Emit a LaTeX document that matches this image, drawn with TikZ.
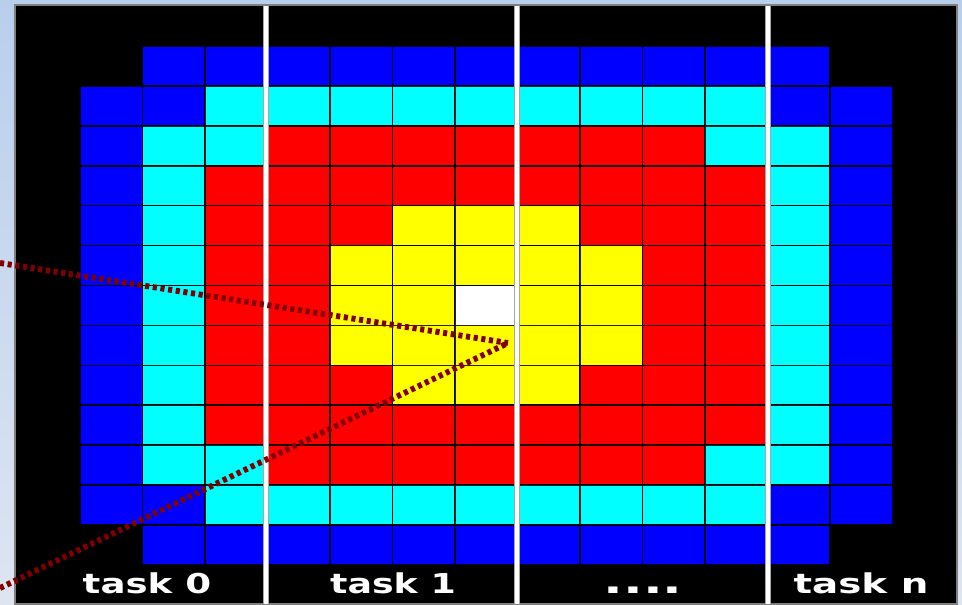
\documentclass[tikz,border=0pt]{standalone}
\usepackage{fontspec}
\newfontfamily\labelfont{DejaVu Sans}
\definecolor{cK}{RGB}{0,0,0}
\definecolor{cB}{RGB}{0,0,255}
\definecolor{cC}{RGB}{0,255,255}
\definecolor{cR}{RGB}{255,0,0}
\definecolor{cY}{RGB}{255,255,0}
\definecolor{cW}{RGB}{255,255,255}
\definecolor{bgtop}{RGB}{184,207,236}
\definecolor{bgbot}{RGB}{222,229,240}
\definecolor{rayred}{RGB}{128,0,0}
\tikzset{
  cellgrid/.style={draw=black, draw opacity=0.85, line width=1.2pt},
  ray/.style={draw=rayred, line width=4.4pt, dash pattern=on 3.1pt off 2.7pt},
  tasklabel/.style={text=white, inner sep=0pt, anchor=base,
    font=\labelfont\bfseries\fontsize{20.5}{24}\selectfont},
  dotlabel/.style={text=white, inner sep=0pt, anchor=base,
    font=\labelfont\bfseries\fontsize{26}{30}\selectfont},
  sepglow/.style={draw=gray!70, line width=4.8pt},
  sepline/.style={draw=white, line width=2.8pt}
}
\begin{document}
\begin{tikzpicture}[x=0.75pt,y=-0.75pt]
\useasboundingbox (0,0) rectangle (962,605);
\shade[top color=bgtop, bottom color=bgbot] (0,0) rectangle (962,605);
\draw[gray, line width=1.2pt, fill=black] (15,5) rectangle (957,604);
\foreach \r/\row in {
  0/{K,B,B,B,B,B,B,B,B,B,B,B,K},
  1/{B,B,C,C,C,C,C,C,C,C,C,B,B},
  2/{B,C,C,R,R,R,R,R,R,R,C,C,B},
  3/{B,C,R,R,R,R,R,R,R,R,R,C,B},
  4/{B,C,R,R,R,Y,Y,Y,R,R,R,C,B},
  5/{B,C,R,R,Y,Y,Y,Y,Y,R,R,C,B},
  6/{B,C,R,R,Y,Y,W,Y,Y,R,R,C,B},
  7/{B,C,R,R,Y,Y,Y,Y,Y,R,R,C,B},
  8/{B,C,R,R,R,Y,Y,Y,R,R,R,C,B},
  9/{B,C,R,R,R,R,R,R,R,R,R,C,B},
  10/{B,C,C,R,R,R,R,R,R,R,C,C,B},
  11/{B,B,C,C,C,C,C,C,C,C,C,B,B},
  12/{K,B,B,B,B,B,B,B,B,B,B,B,K}}
{
  \foreach \c [count=\i from 0] in \row {
    \filldraw[fill=c\c, cellgrid] ({80+62.5*\i},{46+39.92*\r}) rectangle ++(62.5,39.92);
  }
}
\foreach \x in {266,517,768} {
  \draw[sepglow] (\x,6) -- (\x,604);
  \draw[sepline] (\x,6) -- (\x,604);
}
\coordinate (focus) at (508,343);
\coordinate (rayA) at (0,263);
\coordinate (rayB) at (0,588);
\draw[ray] (rayA) -- (focus);
\draw[ray] (rayB) -- (focus);
\node[tasklabel] (t0) at (147,593) {\scalebox{1.36}[1]{task 0}};
\node[tasklabel] (t1) at (393,593) {\scalebox{1.33}[1]{task 1}};
\node[dotlabel] (tdots) at (643,593) {\scalebox{1.5}[1]{....}};
\node[tasklabel] (tn) at (861,593) {\scalebox{1.42}[1]{task n}};
\end{tikzpicture}
\end{document}
